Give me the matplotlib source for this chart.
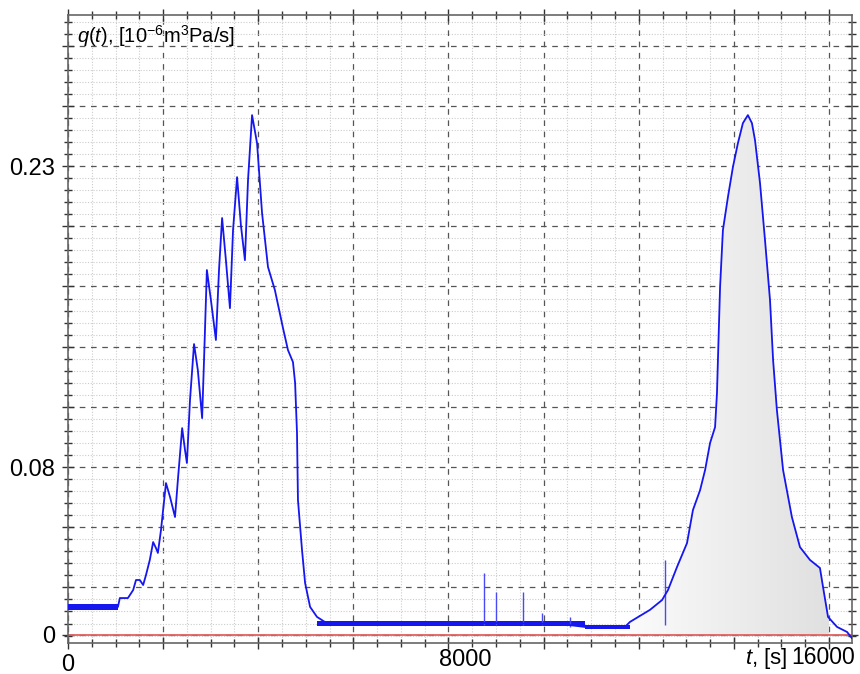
import numpy as np
import matplotlib
matplotlib.use("Agg")
import matplotlib.pyplot as plt
from matplotlib.ticker import MultipleLocator, FixedLocator, FuncFormatter
from matplotlib.colors import LinearSegmentedColormap

plt.rcParams["font.family"] = ["Liberation Sans", "DejaVu Sans"]
plt.rcParams["mathtext.fontset"] = "custom"
plt.rcParams["mathtext.rm"] = "Liberation Sans"
plt.rcParams["mathtext.it"] = "Liberation Sans:italic"

# flow curve, t in s, q in 1e-6 m^3 Pa/s
t = np.array([
    0, 1050, 1090, 1260, 1370, 1430, 1510, 1580, 1640, 1720, 1790, 1850, 1890,
    1955, 2060, 2145, 2250, 2310, 2400, 2460, 2500, 2565, 2650, 2730, 2820,
    2860, 2920, 3005, 3110, 3175, 3240, 3320, 3405, 3470, 3555, 3635, 3720,
    3785, 3870, 3975, 4080, 4205, 4350, 4520, 4625, 4730, 4775, 4815, 4835,
    4920, 4985, 5090, 5235, 5400, 6980, 8660, 10345, 10870, 11710, 11815,
    12235, 12490, 12615, 12805, 13015, 13140, 13290, 13395, 13500, 13605,
    13645, 13665, 13710, 13770, 13875, 13980, 14085, 14190, 14295, 14380,
    14445, 14550, 14655, 14760, 14825, 14905, 15035, 15220, 15390, 15600,
    15810, 15875, 15980, 16170, 16380, 16480,
])
q = np.array([
    0.0140, 0.0140, 0.0184, 0.0184, 0.0224, 0.0274, 0.0274, 0.0249, 0.0299,
    0.0374, 0.0463, 0.0433, 0.0409, 0.0523, 0.0757, 0.0688, 0.0588, 0.0772,
    0.1031, 0.0922, 0.0857, 0.1171, 0.1450, 0.1320, 0.1081, 0.1370, 0.1819,
    0.1669, 0.1470, 0.1819, 0.2078, 0.1868, 0.1629, 0.2018, 0.2282, 0.2043,
    0.1868, 0.2267, 0.2591, 0.2451, 0.2103, 0.1834, 0.1719, 0.1530, 0.1420,
    0.1360, 0.1256, 0.1006, 0.0673, 0.0424, 0.0259, 0.0140, 0.0090, 0.0065,
    0.0060, 0.0060, 0.0055, 0.0040, 0.0040, 0.0065, 0.0125, 0.0174, 0.0224,
    0.0339, 0.0458, 0.0623, 0.0722, 0.0822, 0.0957, 0.1036, 0.1206, 0.1370,
    0.1734, 0.2018, 0.2182, 0.2332, 0.2451, 0.2551, 0.2591, 0.2551, 0.2466,
    0.2252, 0.1968, 0.1669, 0.1370, 0.1121, 0.0822, 0.0588, 0.0438, 0.0374,
    0.0334, 0.0239, 0.0090, 0.0040, 0.0015, -0.0015,
])

# noisy stretches drawn as a thin band (lower / upper edge)
band_t = [[0, 1050], [5235, 10870], [10870, 11815]]
band_lo = [0.0122, 0.0045, 0.0030]
band_hi = [0.0155, 0.0068, 0.0050]

# isolated spikes
spike_t = [8746, 8999, 9566, 9966, 10555, 12552]
spike_lo = [0.0050, 0.0050, 0.0050, 0.0050, 0.0040, 0.0050]
spike_hi = [0.0309, 0.0214, 0.0214, 0.0110, 0.0090, 0.0374]

# shaded interval
fill_start, fill_end = 11800, 16000

# y tick labels (gridlines sit every 0.03 from the 0.08 line)
grid_ref = 0.0837
ytick_values = [0.0, grid_ref, grid_ref + 0.15]
ytick_labels = ["0", "0.08", "0.23"]

blue = "#1616ee"

fig = plt.figure(figsize=(8.6, 6.74), dpi=100)
ax = fig.add_axes([68 / 860, 31 / 674, 784 / 860, 628 / 674])
ax.set_axisbelow(True)

# gradient fill under the second peak
m = (t > fill_start) & (t < fill_end)
ft = np.concatenate([[fill_start], t[m], [fill_end]])
fq = np.concatenate([[np.interp(fill_start, t, q)], q[m], [np.interp(fill_end, t, q)]])
poly = ax.fill_between(ft, fq, 0, facecolor="none", edgecolor="none")
cmap = LinearSegmentedColormap.from_list("shade", ["#fbfbfb", "#e0e0e0"])
im = ax.imshow(np.linspace(0, 1, 256).reshape(1, -1), cmap=cmap, aspect="auto",
               extent=[fill_start, fill_end, 0, q.max()], zorder=1.5)
im.set_clip_path(poly.get_paths()[0], transform=ax.transData)

ax.axhline(0, color="#e06060", lw=1.3, zorder=2)
for bt, lo, hi in zip(band_t, band_lo, band_hi):
    ax.fill_between(bt, lo, hi, color=blue, lw=0, zorder=3)
ax.vlines(spike_t, spike_lo, spike_hi, color="#4a4af5", lw=1.0, zorder=3)
ax.plot(t, q, color=blue, lw=1.3, zorder=4)

ax.set_xlim(0, 16484)
ax.set_ylim(-0.004, 0.309)

ax.xaxis.set_major_locator(MultipleLocator(2000))
ax.xaxis.set_minor_locator(MultipleLocator(500))
ymaj = list(grid_ref + 0.03 * np.arange(-2, 8)) + [0.0]
ax.yaxis.set_major_locator(FixedLocator(sorted(ymaj)))
ax.yaxis.set_minor_locator(FixedLocator(grid_ref + 0.006 * np.arange(-14, 38)))


def ylab(v, pos):
    for val, lab in zip(ytick_values, ytick_labels):
        if abs(v - val) < 1e-6:
            return lab
    return ""


ax.yaxis.set_major_formatter(FuncFormatter(ylab))
ax.tick_params(axis="x", labelbottom=False)
ax.tick_params(which="both", direction="inout", top=True, right=True,
               color="#333333", width=1.0, labelsize=17, pad=5)
ax.tick_params(which="major", length=9)
ax.tick_params(which="minor", length=6)

ax.grid(which="major", linestyle=(0, (4.5, 4.5)), color="#555555", lw=0.9)
ax.grid(which="minor", linestyle=(0, (1, 1.5)), color="#cccccc", lw=0.8)

for s in ax.spines.values():
    s.set_color("#666666")
    s.set_linewidth(1.2)

ax.text(0.0115, 0.955, r"$q(t)$, [10$^{-6}$m$^{3}$Pa/s]", transform=ax.transAxes,
        fontsize=14.5, va="baseline", ha="left")
xt = ax.get_xaxis_transform()
ax.text(0, -0.017, "0", transform=xt, fontsize=17, ha="center", va="top")
ax.text(7800, -0.01, "8000", transform=xt, fontsize=17, ha="left", va="top")
ax.text(16540, -0.004, "16000", transform=xt, fontsize=16.5, ha="right", va="top")
ax.text(15120, -0.004, r"$t$, [s]", transform=xt, fontsize=16, ha="right", va="top")

fig.savefig("out.png", dpi=100)
